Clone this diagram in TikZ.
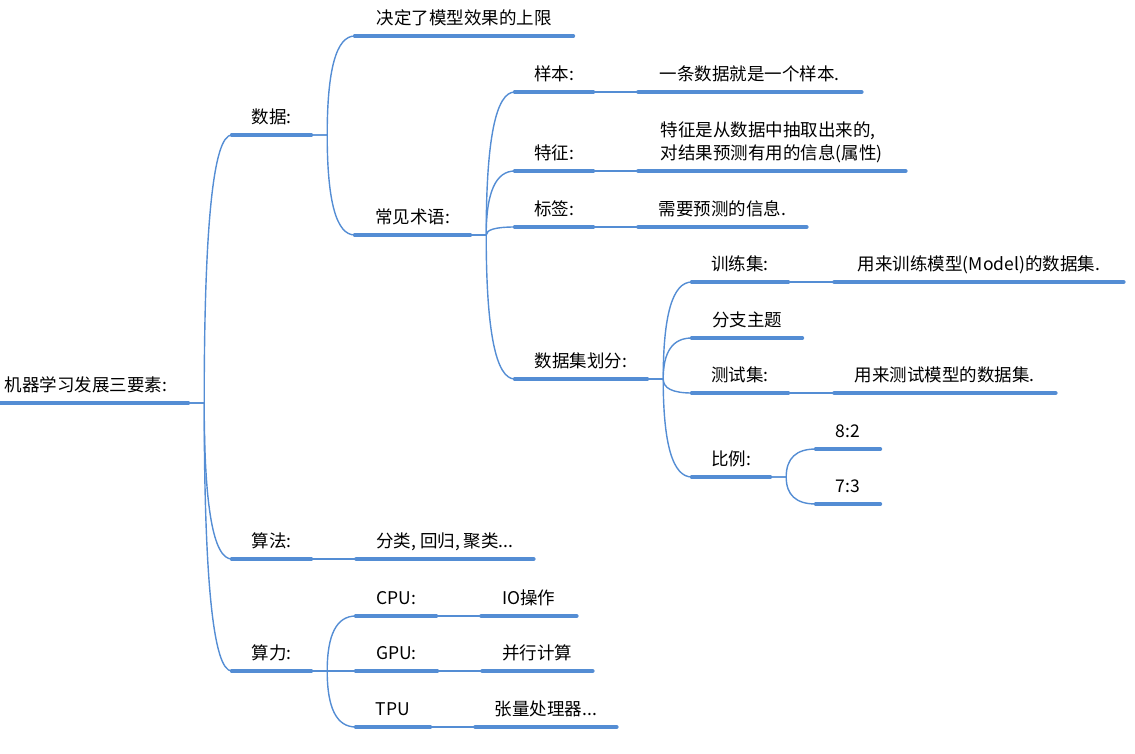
\documentclass[tikz,border=0pt]{standalone}
\usepackage{fontspec}
\setmainfont{Noto Sans CJK SC}
\usetikzlibrary{positioning, calc}
\definecolor{mapblue}{RGB}{84,141,212}

\begin{document}
\begin{tikzpicture}[
    x=1pt, y=-1pt,
    topic/.style={inner xsep=0pt, inner ysep=11pt, text depth=0pt, anchor=south, font=\fontsize{17.5}{23}\selectfont},
    uline/.style={draw=mapblue, line width=4pt, line cap=round},
    link/.style={draw=mapblue, line width=1.4pt},
    branch/.style={to path={-- ++(16pt,0) coordinate (j) .. controls ($(j)!2/3!(j |- \tikztotarget)$) and ($(\tikztotarget)!2/3!(j |- \tikztotarget)$) .. (\tikztotarget)}}
]
\useasboundingbox (0,0) rectangle (1135,754);

% root and main branches
\node[topic, minimum width=204pt] (root) at (86,403) {机器学习发展三要素:};
\node[topic, minimum width=79pt] (data) at (271.5,135) {数据:};
\node[topic, minimum width=79pt] (algo) at (271.5,559) {算法:};
\node[topic, minimum width=79pt] (comp) at (271.5,671) {算力:};

% data
\node[topic, minimum width=218pt] (limit) at (464,36) {决定了模型效果的上限};
\node[topic, minimum width=115pt] (terms) at (412.5,235) {常见术语:};

\node[topic, minimum width=78pt] (sample) at (554,92) {样本:};
\node[topic, minimum width=223pt, right=45pt of sample.south east, anchor=south west] (sampled) {一条数据就是一个样本.};
\node[topic, minimum width=78pt] (feat) at (554,171) {特征:};
\node[topic, minimum width=267pt, align=left, right=45pt of feat.south east, anchor=south west] (featd) {特征是从数据中抽取出来的,\\对结果预测有用的信息(属性)};
\node[topic, minimum width=78pt] (label) at (554,227) {标签:};
\node[topic, minimum width=168pt, right=45pt of label.south east, anchor=south west] (labeld) {需要预测的信息.};
\node[topic, minimum width=132pt] (split) at (581,379) {数据集划分:};

\node[topic, minimum width=96pt] (train) at (740,282) {训练集:};
\node[topic, minimum width=289pt, right=46pt of train.south east, anchor=south west] (traind) {用来训练模型(Model)的数据集.};
\node[topic, minimum width=110pt] (branchtopic) at (747,338) {分支主题};
\node[topic, minimum width=96pt] (test) at (740,393) {测试集:};
\node[topic, minimum width=221pt, right=46pt of test.south east, anchor=south west] (testd) {用来测试模型的数据集.};
\node[topic, minimum width=78pt] (ratio) at (731,477) {比例:};
\node[topic, minimum width=64pt] (r82) at (848,449) {8:2};
\node[topic, minimum width=64pt] (r73) at (848,504) {7:3};

% algorithms
\node[topic, minimum width=177pt, right=45pt of algo.south east, anchor=south west] (algod) {分类, 回归, 聚类...};

% computing power
\node[topic, minimum width=80pt] (cpu) at (396,616) {CPU:};
\node[topic, minimum width=95pt, right=45pt of cpu.south east, anchor=south west] (cpud) {IO操作};
\node[topic, minimum width=81pt] (gpu) at (396.5,671) {GPU:};
\node[topic, minimum width=110pt, right=45pt of gpu.south east, anchor=south west] (gpud) {并行计算};
\node[topic, minimum width=74pt] (tpu) at (393,727) {TPU};
\node[topic, minimum width=141pt, right=45pt of tpu.south east, anchor=south west] (tpud) {张量处理器...};

% connectors
\draw[link] (root.south east) to[branch] (data.south west);
\draw[link] (root.south east) to[branch] (algo.south west);
\draw[link] (root.south east) to[branch] (comp.south west);
\draw[link] (data.south east) to[branch] (limit.south west);
\draw[link] (data.south east) to[branch] (terms.south west);
\draw[link] (terms.south east) to[branch] (sample.south west);
\draw[link] (terms.south east) to[branch] (feat.south west);
\draw[link] (terms.south east) to[branch] (label.south west);
\draw[link] (terms.south east) to[branch] (split.south west);
\draw[link] (sample.south east) -- (sampled.south west);
\draw[link] (feat.south east) -- (featd.south west);
\draw[link] (label.south east) -- (labeld.south west);
\draw[link] (split.south east) to[branch] (train.south west);
\draw[link] (split.south east) to[branch] (branchtopic.south west);
\draw[link] (split.south east) to[branch] (test.south west);
\draw[link] (split.south east) to[branch] (ratio.south west);
\draw[link] (train.south east) -- (traind.south west);
\draw[link] (test.south east) -- (testd.south west);
\draw[link] (ratio.south east) to[branch] (r82.south west);
\draw[link] (ratio.south east) to[branch] (r73.south west);
\draw[link] (algo.south east) -- (algod.south west);
\draw[link] (comp.south east) to[branch] (cpu.south west);
\draw[link] (comp.south east) to[branch] (gpu.south west);
\draw[link] (comp.south east) to[branch] (tpu.south west);
\draw[link] (cpu.south east) -- (cpud.south west);
\draw[link] (gpu.south east) -- (gpud.south west);
\draw[link] (tpu.south east) -- (tpud.south west);

% underlines
\foreach \n in {root, data, algo, comp, limit, terms, sample, sampled, feat, featd, label, labeld, split,
    train, traind, branchtopic, test, testd, ratio, r82, r73, algod, cpu, cpud, gpu, gpud, tpu, tpud}
    \draw[uline] (\n.south west) -- (\n.south east);

\end{tikzpicture}
\end{document}
